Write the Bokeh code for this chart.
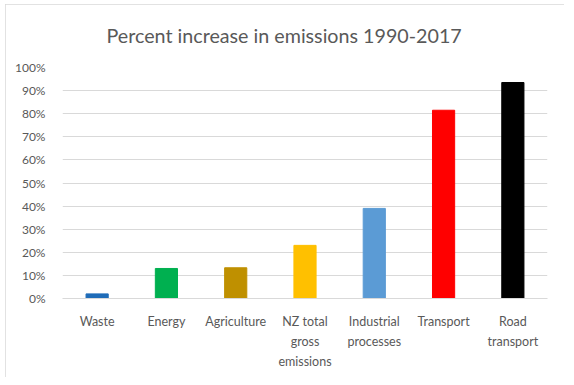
from bokeh.plotting import figure
from bokeh.models import ColumnDataSource, NumeralTickFormatter, FixedTicker, Title
from bokeh.embed import file_html
from bokeh.resources import INLINE

title_text = "Percent increase in emissions 1990-2017"
categories = ["Waste", "Energy", "Agriculture", "NZ total\ngross\nemissions",
              "Industrial\nprocesses", "Transport", "Road\ntransport"]
values = [0.02, 0.13, 0.133, 0.23, 0.39, 0.815, 0.935]
colors = ["#1F6CB8", "#00B050", "#BF9000", "#FFC000", "#5B9BD5", "#FF0000", "#000000"]
y_ticks = [0.0, 0.1, 0.2, 0.3, 0.4, 0.5, 0.6, 0.7, 0.8, 0.9, 1.0]

FONT = "Lato"
GRAY = "#595959"

source = ColumnDataSource(dict(cat=categories, val=values, color=colors))

p = figure(x_range=categories, y_range=(0, 1.0),
           width=559, height=373, title=None,
           output_backend="svg", toolbar_location=None,
           min_border_left=57, min_border_right=17, min_border_top=63, min_border_bottom=79)
p.styles = {"outline": "1px solid #D9D9D9", "outline-offset": "-1px",
            "margin-left": "5px", "margin-top": "4px"}

p.vbar(x="cat", top="val", width=0.32, color="color", source=source)

spacer = Title(text=" ", text_font_size="1px", standoff=13)
p.add_layout(spacer, "above")
main_title = Title(text=title_text, align="left", offset=44,
                   text_font=FONT, text_font_size="19.7px", text_font_style="normal",
                   text_color=GRAY)
p.add_layout(main_title, "above")

p.outline_line_color = None
p.background_fill_color = "white"
p.border_fill_color = "white"

p.yaxis.ticker = FixedTicker(ticks=y_ticks)
p.yaxis.formatter = NumeralTickFormatter(format="0%")
p.yaxis.axis_line_color = None
p.yaxis.major_tick_line_color = None
p.yaxis.minor_tick_line_color = None
p.yaxis.major_label_standoff = 11
p.yaxis.major_label_text_font = FONT
p.yaxis.major_label_text_font_size = "12px"
p.yaxis.major_label_text_color = GRAY

p.xaxis.axis_line_color = "#D9D9D9"
p.xaxis.major_tick_line_color = None
p.xaxis.minor_tick_line_color = None
p.xaxis.major_label_standoff = 9
p.xaxis.major_label_text_font = FONT
p.xaxis.major_label_text_font_size = "12.5px"
p.xaxis.major_label_text_color = GRAY
p.xaxis.major_label_text_line_height = 1.35

p.xgrid.grid_line_color = None
p.ygrid.grid_line_color = "#D9D9D9"
p.ygrid.grid_line_width = 1

open("out.html", "w").write(file_html(p, INLINE))
